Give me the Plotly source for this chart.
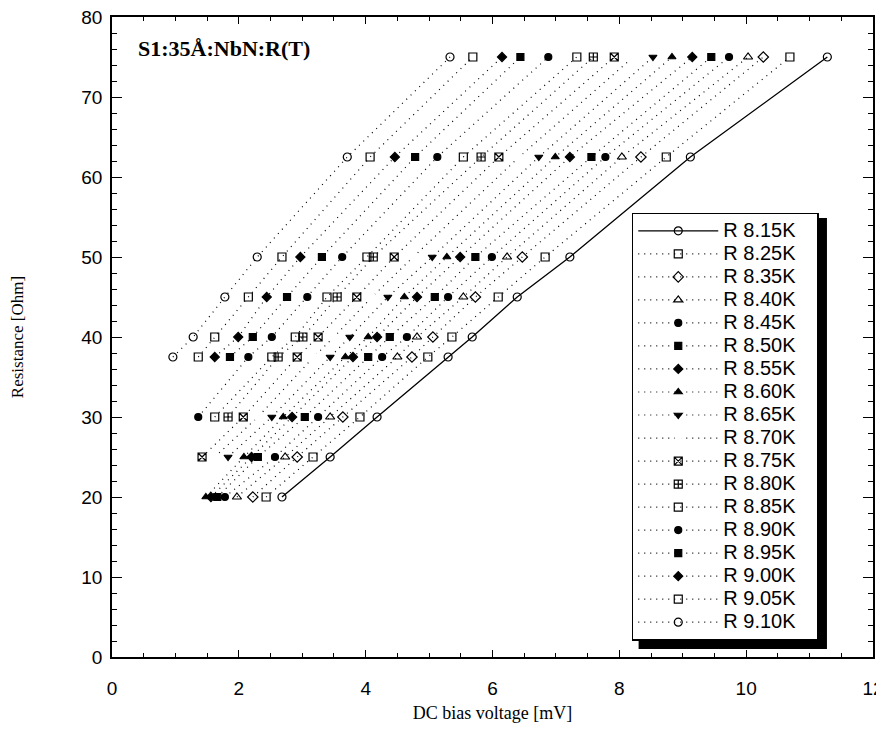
import plotly.graph_objects as go

# Resistance levels (Ohm) at which each R(T) curve was sampled
R_LEVELS = [20, 25, 30, 37.5, 40, 45, 50, 62.5, 75]

# DC bias voltage [mV] for each temperature curve (None = not reached)
V_815 = [2.68, 3.44, 4.18, 5.30, 5.68, 6.39, 7.22, 9.12, 11.28]
V_825 = [2.43, 3.17, 3.91, 4.98, 5.36, 6.09, 6.83, 8.74, 10.69]
V_835 = [2.22, 2.92, 3.64, 4.73, 5.06, 5.73, 6.47, 8.34, 10.27]
V_840 = [1.97, 2.73, 3.44, 4.50, 4.81, 5.54, 6.23, 8.04, 10.03]
V_845 = [1.78, 2.57, 3.25, 4.26, 4.65, 5.30, 5.99, 7.78, 9.73]
V_850 = [1.66, 2.30, 3.04, 4.04, 4.38, 5.09, 5.73, 7.56, 9.45]
V_855 = [1.56, 2.20, 2.84, 3.80, 4.18, 4.81, 5.49, 7.22, 9.15]
V_860 = [1.48, 2.08, 2.70, 3.68, 4.04, 4.61, 5.28, 6.99, 8.83]
V_865 = [None, 1.83, 2.52, 3.44, 3.75, 4.35, 5.05, 6.73, 8.53]
V_870 = [None, 1.62, 2.30, 3.18, 3.50, 4.10, 4.75, 6.42, 8.22]
V_875 = [None, 1.42, 2.07, 2.92, 3.25, 3.86, 4.45, 6.10, 7.92]
V_880 = [None, None, 1.83, 2.62, 3.01, 3.55, 4.12, 5.82, 7.59]
V_885 = [None, None, 1.62, 2.52, 2.89, 3.39, 4.02, 5.54, 7.33]
V_890 = [None, None, 1.36, 2.15, 2.52, 3.08, 3.63, 5.13, 6.88]
V_895 = [None, None, None, 1.86, 2.22, 2.76, 3.31, 4.78, 6.44]
V_900 = [None, None, None, 1.62, 1.99, 2.44, 2.97, 4.46, 6.15]
V_905 = [None, None, None, 1.36, 1.62, 2.15, 2.68, 4.07, 5.69]
V_910 = [None, None, None, 0.96, 1.28, 1.78, 2.29, 3.71, 5.33]

SERIES_NAMES = ["R 8.15K", "R 8.25K", "R 8.35K", "R 8.40K", "R 8.45K", "R 8.50K",
                "R 8.55K", "R 8.60K", "R 8.65K", "R 8.70K", "R 8.75K", "R 8.80K",
                "R 8.85K", "R 8.90K", "R 8.95K", "R 9.00K", "R 9.05K", "R 9.10K"]
SERIES_VALUES = [V_815, V_825, V_835, V_840, V_845, V_850, V_855, V_860, V_865,
                 V_870, V_875, V_880, V_885, V_890, V_895, V_900, V_905, V_910]
SYMBOLS = ["circle-open", "square-open", "diamond-open", "triangle-up-open", "circle",
           "square", "diamond", "triangle-up", "triangle-down", None, "square-x-open",
           "square-cross-open", "square-open", "circle", "square", "diamond",
           "square-open", "circle-open"]

fig = go.Figure()
for i, (name, xs, sym) in enumerate(zip(SERIES_NAMES, SERIES_VALUES, SYMBOLS)):
    solid = (i == 0)
    line = dict(color="black", width=1.3 if solid else 1.2,
                dash="solid" if solid else "1px,5px")
    if sym is None:
        marker = dict(symbol="square", size=7, color="white",
                      line=dict(width=0, color="white"))
    else:
        marker = dict(symbol=sym, size=8 if "open" in sym else 7, color="black",
                      line=dict(width=1.2, color="black"))
    label = '<span style="font-size:20px">' + name + '&nbsp;&nbsp;&nbsp;</span>'
    fig.add_trace(go.Scatter(x=xs, y=R_LEVELS, mode="lines+markers", name=label,
                             line=line, marker=marker, connectgaps=False))

fig.add_annotation(x=0.032, y=0.951, xref="paper", yref="paper", xanchor="left",
                   yanchor="middle", showarrow=False, text="<b>S1:35Å:NbN:R(T)</b>",
                   font=dict(family="Liberation Serif", size=22, color="black"))

# legend drop shadow
fig.add_shape(type="rect", xref="paper", yref="paper", layer="above",
              x0=0.692, x1=0.9395, y0=0.0125, y1=0.686,
              fillcolor="black", line=dict(width=0))

axis_common = dict(showgrid=False, zeroline=False, showline=True, linecolor="black",
                   linewidth=1.5, mirror="allticks", ticks="inside", tickcolor="black",
                   automargin=False, ticklabeloverflow="allow",
                   tickfont=dict(family="Liberation Sans", size=19, color="black"))

fig.update_xaxes(range=[0, 12], tick0=0, dtick=2, ticklen=7, tickwidth=1.2,
                 ticklabelstandoff=13,
                 minor=dict(dtick=0.5, ticklen=4, ticks="inside", tickcolor="black"),
                 title=dict(text="DC bias voltage [mV]", standoff=12,
                            font=dict(family="Liberation Serif", size=18, color="black")),
                 **axis_common)
fig.update_yaxes(range=[0, 80], tick0=0, dtick=10, ticklen=10, tickwidth=1.2,
                 ticklabelstandoff=4,
                 minor=dict(dtick=2, ticklen=5, ticks="inside", tickcolor="black"),
                 title=dict(text="Resistance [Ohm]", standoff=56,
                            font=dict(family="Liberation Serif", size=17, color="black")),
                 **axis_common)

fig.update_layout(
    width=876, height=715,
    margin=dict(l=104, r=11, t=9, b=66, autoexpand=False),
    paper_bgcolor="white", plot_bgcolor="white",
    legend=dict(x=0.683, y=0.694, xanchor="left", yanchor="top",
                bgcolor="white", bordercolor="black", borderwidth=1.5,
                itemwidth=80,
                font=dict(family="Liberation Sans", size=15.4, color="black")),
)

fig.write_html("out.html")
